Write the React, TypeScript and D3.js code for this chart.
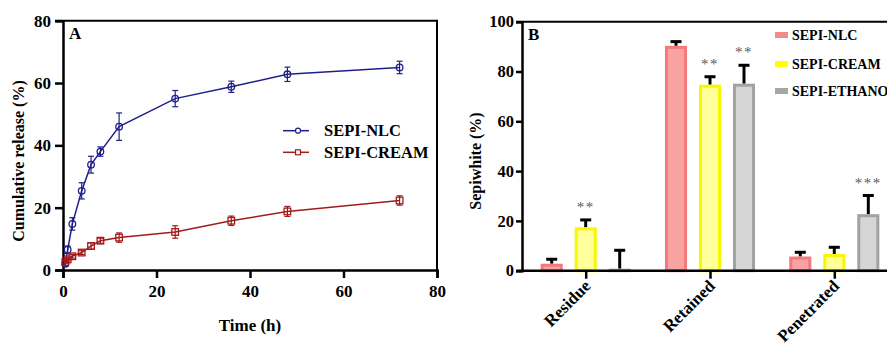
import React, { useRef, useEffect } from "react";
import * as d3 from "d3";

// panel A - cumulative release over time
const times = [0.5, 1, 2, 4, 6, 8, 12, 24, 36, 48, 72];
const nlcRelease = [2, 6.5, 14.8, 25.4, 33.8, 38, 46, 55, 58.8, 62.8, 65];
const nlcErr = [0.8, 1.2, 2, 2.6, 2.7, 1.5, 4.4, 2.6, 1.8, 2.3, 2];
const creamRelease = [2.5, 3.4, 4.4, 5.6, 7.7, 9.4, 10.4, 12.2, 15.8, 18.8, 22.3];
const creamErr = [0.5, 0.5, 0.6, 0.6, 1, 0.8, 1.5, 2, 1.5, 1.6, 1.5];
const timeTicks = [0, 20, 40, 60, 80];
const releaseTicks = [0, 20, 40, 60, 80];

// panel B - skin distribution
const categories = ["Residue", "Retained", "Penetrated"];
const groups = ["SEPI-NLC", "SEPI-CREAM", "SEPI-ETHANOL"];
const nlcDist = [2.8, 90.3, 5.7];
const nlcDistErr = [1.8, 1.7, 1.7];
const creamDist = [17.4, 74.7, 6.7];
const creamDistErr = [3, 3.2, 2.7];
const ethanolDist = [0.8, 75.1, 22.7];
const ethanolDistErr = [7.4, 7.4, 7.5];
const stars = [["", "**", ""], ["", "**", "**"], ["", "", "***"]];
const percentTicks = [0, 20, 40, 60, 80, 100];

const FONT = "'Liberation Serif', 'Times New Roman', serif";

export default function App() {
  const svgRef = useRef(null);

  useEffect(() => {
    const svg = d3.select(svgRef.current);
    svg.selectAll("*").remove();

    // ---------- panel A ----------
    const x = d3.scaleLinear().domain([0, 80]).range([63, 437]);
    const y = d3.scaleLinear().domain([0, 80]).range([270, 20.7]);
    const a = svg.append("g");

    // frame (top + right)
    a.append("path")
      .attr("d", `M${x(0) - 8},${y(80)}H${x(80)}V${y(0)}`)
      .attr("fill", "none").attr("stroke", "#000").attr("stroke-width", 2);

    const axA = a.append("g").attr("transform", `translate(0,${y(0)})`)
      .call(d3.axisBottom(x).tickValues(timeTicks).tickSize(8).tickPadding(7).tickFormat(d3.format("d")));
    const ayA = a.append("g").attr("transform", `translate(${x(0)},0)`)
      .call(d3.axisLeft(y).tickValues(releaseTicks).tickSize(8).tickPadding(4).tickFormat(d3.format("d")));
    [axA, ayA].forEach((g) => {
      g.select(".domain").attr("stroke-width", 2.5);
      g.selectAll(".tick line").attr("stroke-width", 2.5);
      g.selectAll("text").attr("font-family", FONT).attr("font-size", 17).attr("font-weight", "bold").attr("fill", "#000");
    });

    const seriesA = [
      { name: "SEPI-NLC", vals: nlcRelease, err: nlcErr, color: "#1f1f8a", shape: "circle" },
      { name: "SEPI-CREAM", vals: creamRelease, err: creamErr, color: "#a01c1c", shape: "square" },
    ];
    const line = d3.line().x((d) => x(d[0])).y((d) => y(d[1]));
    seriesA.forEach((s) => {
      const pts = times.map((t, i) => [t, s.vals[i], s.err[i]]);
      a.append("path").datum(pts).attr("d", line)
        .attr("fill", "none").attr("stroke", s.color).attr("stroke-width", 1.5);
      const eg = a.append("g").attr("stroke", s.color).attr("stroke-width", 1.2);
      pts.forEach((p) => {
        eg.append("line").attr("x1", x(p[0])).attr("x2", x(p[0])).attr("y1", y(p[1] - p[2])).attr("y2", y(p[1] + p[2]));
        [p[1] - p[2], p[1] + p[2]].forEach((v) =>
          eg.append("line").attr("x1", x(p[0]) - 3).attr("x2", x(p[0]) + 3).attr("y1", y(v)).attr("y2", y(v)));
      });
      pts.forEach((p) => {
        if (s.shape === "circle") {
          a.append("circle").attr("cx", x(p[0])).attr("cy", y(p[1])).attr("r", 3.3)
            .attr("fill", "none").attr("stroke", s.color).attr("stroke-width", 1.3);
        } else {
          a.append("rect").attr("x", x(p[0]) - 3.3).attr("y", y(p[1]) - 3.3).attr("width", 6.6).attr("height", 6.6)
            .attr("fill", "none").attr("stroke", s.color).attr("stroke-width", 1.3);
        }
      });
    });

    // legend A
    const legY = [130.7, 152.3];
    seriesA.forEach((s, i) => {
      const lg = a.append("g");
      lg.append("line").attr("x1", 283).attr("x2", 309).attr("y1", legY[i]).attr("y2", legY[i])
        .attr("stroke", s.color).attr("stroke-width", 1.5);
      if (s.shape === "circle") {
        lg.append("circle").attr("cx", 298).attr("cy", legY[i]).attr("r", 2.5)
          .attr("fill", "#fff").attr("stroke", s.color).attr("stroke-width", 1.2);
      } else {
        lg.append("rect").attr("x", 295.5).attr("y", legY[i] - 2.5).attr("width", 5).attr("height", 5)
          .attr("fill", "#fff").attr("stroke", s.color).attr("stroke-width", 1.2);
      }
      lg.append("text").attr("x", 324).attr("y", legY[i] + 5.5).text(s.name)
        .attr("font-family", FONT).attr("font-size", 16.5).attr("font-weight", "bold");
    });

    a.append("text").attr("x", 69).attr("y", 39).text("A")
      .attr("font-family", FONT).attr("font-size", 17).attr("font-weight", "bold");
    a.append("text").attr("x", 250).attr("y", 331).attr("text-anchor", "middle").text("Time (h)")
      .attr("font-family", FONT).attr("font-size", 17).attr("font-weight", "bold");
    a.append("text").attr("transform", "translate(24,161) rotate(-90)").attr("text-anchor", "middle")
      .text("Cumulative release (%)")
      .attr("font-family", FONT).attr("font-size", 16).attr("font-weight", "bold");

    // ---------- panel B ----------
    const b = svg.append("g");
    const xc = d3.scalePoint().domain(categories).range([585.7, 834.3]);
    const xg = d3.scaleBand().domain(groups).range([-51, 51]).paddingInner(0.35).paddingOuter(0.175);
    const yb = d3.scaleLinear().domain([0, 100]).range([270.7, 21.7]);

    b.append("line").attr("x1", 516).attr("x2", 910).attr("y1", yb(100)).attr("y2", yb(100))
      .attr("stroke", "#000").attr("stroke-width", 2);

    const distData = [
      { vals: nlcDist, err: nlcDistErr, fill: "#f9a2a2", stroke: "#f27a7a", sw: "#f38a8a" },
      { vals: creamDist, err: creamDistErr, fill: "#ffff9c", stroke: "#f7f700", sw: "#ffff00" },
      { vals: ethanolDist, err: ethanolDistErr, fill: "#d5d5d5", stroke: "#a2a2a2", sw: "#a6a6a6" },
    ];
    const bw = xg.bandwidth();
    categories.forEach((c, ci) => {
      distData.forEach((s, gi) => {
        const cx = xc(c) + xg(groups[gi]) + bw / 2;
        const v = s.vals[ci];
        const top = v + s.err[ci];
        b.append("line").attr("x1", cx).attr("x2", cx).attr("y1", yb(v)).attr("y2", yb(top))
          .attr("stroke", "#000").attr("stroke-width", 3);
        b.append("line").attr("x1", cx - 5.5).attr("x2", cx + 5.5).attr("y1", yb(top)).attr("y2", yb(top))
          .attr("stroke", "#000").attr("stroke-width", 3);
        const h = yb(0) - yb(v);
        b.append("rect").attr("x", cx - bw / 2 + 1.5).attr("y", yb(v) + 1.5)
          .attr("width", bw - 3).attr("height", Math.max(h - 1.5, 0.5))
          .attr("fill", s.fill).attr("stroke", s.stroke).attr("stroke-width", 3);
        const st = stars[ci][gi];
        if (st) {
          b.append("text").attr("x", cx).attr("y", yb(top) - 8).attr("text-anchor", "middle").text(st)
            .attr("font-family", FONT).attr("font-size", 15).attr("letter-spacing", 1.5).attr("fill", "#5a5a5a");
        }
      });
    });

    const ayB = b.append("g").attr("transform", "translate(522,0)")
      .call(d3.axisLeft(yb).tickValues(percentTicks).tickSize(6).tickPadding(2).tickFormat(d3.format("d")));
    const axB = b.append("g").attr("transform", `translate(0,${yb(0)})`)
      .call(d3.axisBottom(xc).tickSize(8).tickFormat(() => ""));
    axB.select(".domain").attr("d", `M516,0H910`);
    [ayB, axB].forEach((g) => {
      g.select(".domain").attr("stroke-width", 2.5);
      g.selectAll(".tick line").attr("stroke-width", 2.5);
      g.selectAll("text").attr("font-family", FONT).attr("font-size", 16.5).attr("font-weight", "bold").attr("fill", "#000");
    });
    categories.forEach((c) => {
      b.append("text").attr("transform", `translate(${xc(c) + 6},287) rotate(-45)`)
        .attr("text-anchor", "end").text(c)
        .attr("font-family", FONT).attr("font-size", 17).attr("font-weight", "bold");
    });

    const legB = [35, 64, 91];
    distData.forEach((s, i) => {
      b.append("rect").attr("x", 775).attr("y", legB[i] - 3).attr("width", 13).attr("height", 6).attr("fill", s.sw);
      b.append("text").attr("x", 792).attr("y", legB[i] + 5).text(groups[i])
        .attr("font-family", FONT).attr("font-size", 14).attr("font-weight", "bold");
    });

    b.append("text").attr("x", 528).attr("y", 39.5).text("B")
      .attr("font-family", FONT).attr("font-size", 17).attr("font-weight", "bold");
    b.append("text").attr("transform", "translate(481,161) rotate(-90)").attr("text-anchor", "middle")
      .text("Sepiwhite (%)")
      .attr("font-family", FONT).attr("font-size", 16).attr("font-weight", "bold");
  }, []);

  return (
    <svg ref={svgRef} width={887} height={350}
      style={{ position: "absolute", left: 0, top: 0, background: "#fff" }} />
  );
}
